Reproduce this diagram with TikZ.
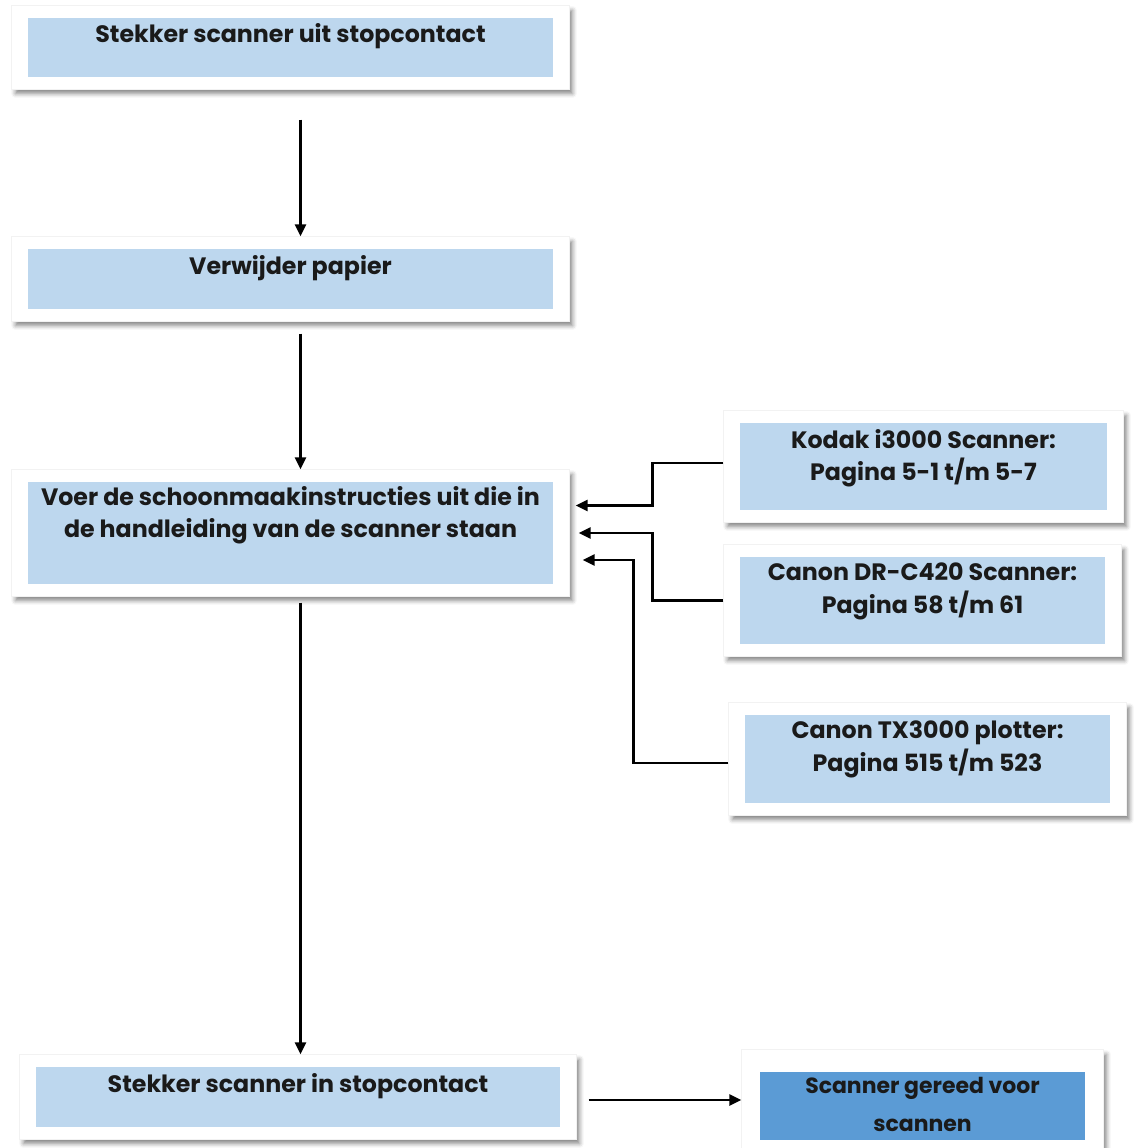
\documentclass[tikz,border=0pt]{standalone}
\usepackage{fontspec}
\setmainfont{Poppins}
\usetikzlibrary{arrows.meta, positioning, fit, backgrounds, shadows.blur}
\definecolor{lichtblauw}{HTML}{BDD7EE}
\definecolor{donkerblauw}{HTML}{5B9BD5}
\definecolor{tekstkleur}{HTML}{1A1A1A}

\begin{document}
\begin{tikzpicture}[
    x=0.02cm, y=-0.02cm,
    blok/.style={fill=lichtblauw, inner sep=0pt, minimum width=10.5cm, minimum height=1.2cm},
    zijblok/.style={blok, minimum width=7.3cm, minimum height=1.74cm},
    kader/.style={fill=white, draw=black!5, inner xsep=0.32cm, inner ysep=0.24cm,
        blur shadow={shadow xshift=0.07cm, shadow yshift=-0.09cm, shadow blur radius=0.08cm, shadow opacity=45}},
    tekst/.style={inner sep=0pt, align=center, text=tekstkleur, font=\bfseries\fontsize{13.5}{18.7}\selectfont},
    pijl/.style={-{Triangle[length=0.24cm, width=0.22cm]}, line width=1.6pt}
]
    \useasboundingbox (0,0) rectangle (1135,1148);

    % hoofdstappen links
    \node[blok, minimum height=1.18cm] (uit) at (290.5,47.5) {};
    \node[tekst, below=0.12cm of uit.north] (uit-tekst) {Stekker scanner uit stopcontact};
    \node[blok] (papier) at (290.5,279) {};
    \node[tekst, below=0.12cm of papier.north] (papier-tekst) {Verwijder papier};
    \node[blok, minimum height=2.04cm] (instr) at (290.5,533) {};
    \node[tekst, below=0.08cm of instr.north] (instr-tekst) {Voer de schoonmaakinstructies uit die in\\de handleiding van de scanner staan};
    \node[blok, minimum width=10.48cm] (in) at (298,1097) {};
    \node[tekst, below=0.12cm of in.north] (in-tekst) {Stekker scanner in stopcontact};

    % handleidingen rechts
    \node[zijblok, minimum width=7.34cm] (kodak) at (923.5,466.5) {};
    \node[tekst, below=0.12cm of kodak.north] (kodak-tekst) {Kodak i3000 Scanner:\\Pagina 5-1 t/m 5-7};
    \node[zijblok] (drc) at (922.5,600.5) {};
    \node[tekst, below=0.12cm of drc.north] (drc-tekst) {Canon DR-C420 Scanner:\\Pagina 58 t/m 61};
    \node[zijblok, minimum height=1.76cm] (tx) at (927.5,759) {};
    \node[tekst, below=0.12cm of tx.north] (tx-tekst) {Canon TX3000 plotter:\\Pagina 515 t/m 523};

    % eindstap
    \node[blok, fill=donkerblauw, minimum width=6.5cm, minimum height=1.36cm] (gereed) at (922.5,1106) {};
    \node[tekst, font=\bfseries\fontsize{12.5}{21.5}\selectfont, below=0.1cm of gereed.north] (gereed-tekst) {Scanner gereed voor\\scannen};

    \begin{scope}[on background layer]
        \node[kader, fit=(uit)] (uit-kader) {};
        \node[kader, fit=(papier)] (papier-kader) {};
        \node[kader, fit=(instr)] (instr-kader) {};
        \node[kader, fit=(in)] (in-kader) {};
        \node[kader, fit=(kodak)] (kodak-kader) {};
        \node[kader, fit=(drc)] (drc-kader) {};
        \node[kader, fit=(tx)] (tx-kader) {};
        \node[kader, inner xsep=0.36cm, inner ysep=0.44cm, fit=(gereed)] (gereed-kader) {};
    \end{scope}

    \draw[pijl, shorten <=0.6cm] ([xshift=0.2cm]uit-kader.south) -- ([xshift=0.2cm]papier-kader.north);
    \draw[pijl, shorten <=0.24cm] ([xshift=0.2cm]papier-kader.south) -- ([xshift=0.2cm]instr-kader.north);
    \draw[pijl, shorten <=0.12cm] ([xshift=0.2cm]instr-kader.south) -- ([xshift=0.2cm]instr-kader.south |- in-kader.north);

    \draw[pijl, shorten >=0.12cm] ([yshift=0.07cm]kodak-kader.west) -- ++(-71,0) |- ([yshift=0.55cm]instr-kader.east);
    \draw[pijl, shorten >=0.18cm] (drc-kader.west) -- ++(-71,0) |- (instr-kader.east);
    \draw[pijl, shorten >=0.26cm] ([yshift=-0.08cm]tx-kader.west) -- ++(-95,0) |- ([yshift=-0.54cm]instr-kader.east);

    \draw[pijl, shorten <=0.24cm] ([yshift=-0.06cm]in-kader.east) -- ([yshift=-0.06cm]in-kader.east -| gereed-kader.west);
\end{tikzpicture}
\end{document}
